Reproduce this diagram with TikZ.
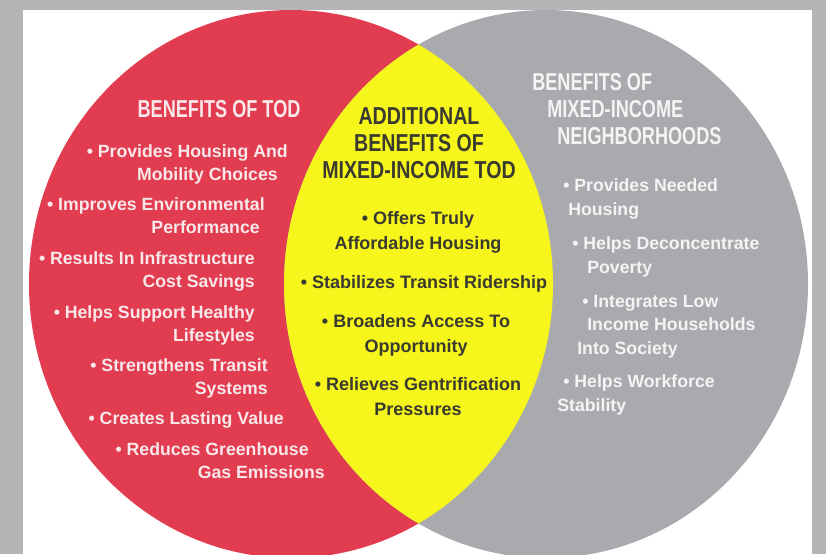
\documentclass[tikz,border=0pt]{standalone}
\usepackage{fontspec}
\setmainfont{Liberation Sans}
\newfontfamily\headfont[FakeStretch=0.74]{Liberation Sans}
\newfontfamily\headboldfont[FakeStretch=0.8]{Liberation Sans}
\usetikzlibrary{positioning}
\definecolor{todRed}{HTML}{E23C50}
\definecolor{mixGray}{HTML}{A9AAAE}
\definecolor{lensYellow}{HTML}{F6F61C}
\definecolor{frameGray}{HTML}{B5B5B7}
\definecolor{darkText}{HTML}{3A3A30}
\definecolor{pinkWhite}{HTML}{F8E8EA}
\definecolor{grayWhite}{HTML}{F4F4F4}
\tikzset{every picture/.style={semithick}}
\tikzset{
  head/.style={font=\headfont\fontsize{24.5}{27}\selectfont\bfseries, inner sep=0pt},
  redtxt/.style={font=\fontsize{17.7}{23}\selectfont\bfseries, inner sep=0pt, text=pinkWhite, align=right, anchor=base east},
  yeltxt/.style={font=\fontsize{18}{25}\selectfont\bfseries, inner sep=0pt, text=darkText, align=center, anchor=base},
  grytxt/.style={font=\fontsize{17.7}{23.5}\selectfont\bfseries, inner sep=0pt, text=grayWhite, align=left, anchor=base west},
}

\begin{document}
\begin{tikzpicture}[x=1pt, y=-1pt]
    \useasboundingbox (0,0) rectangle (826,554);
    \fill[frameGray] (0,0) rectangle (826,554);
    \fill[white] (23,10) rectangle (812,554);
    % the two circles and the lens
    \begin{scope}
        \clip (23,10) rectangle (812,554);
        \fill[todRed] (291,284) ellipse [x radius=262pt, y radius=274pt];
        \fill[mixGray] (546,284) ellipse [x radius=262pt, y radius=274pt];
        \clip (291,284) ellipse [x radius=262pt, y radius=274pt];
        \fill[lensYellow] (546,284) ellipse [x radius=262pt, y radius=274pt];
    \end{scope}

    % left: TOD (base anchor = last line)
    \node[head, text=pinkWhite, anchor=base] (todHead) at (219,117) {BENEFITS OF TOD};
    \node[redtxt] (tod1) at (288,180) {• Provides Housing And\\Mobility Choices\kern10pt};
    \node[redtxt] (tod2) at (265,233) {• Improves Environmental\\Performance\kern5pt};
    \node[redtxt] (tod3) at (255,287) {• Results In Infrastructure\\Cost Savings};
    \node[redtxt] (tod4) at (255,341) {• Helps Support Healthy\\Lifestyles};
    \node[redtxt] (tod5) at (268,394) {• Strengthens Transit\\Systems};
    \node[redtxt] (tod6) at (284,424) {• Creates Lasting Value};
    \node[redtxt] (tod7) at (325,478) {• Reduces Greenhouse\kern16pt\\Gas Emissions};

    % middle: mixed-income TOD
    \node[font=\headboldfont\fontsize{24.5}{27}\selectfont\bfseries, inner sep=0pt, text=darkText, align=center, anchor=base] (mixHead) at (419,178) {ADDITIONAL\\BENEFITS OF\\MIXED-INCOME TOD};
    \node[yeltxt] (mix1) at (418,249) {• Offers Truly\\Affordable Housing};
    \node[yeltxt] (mix2) at (424,288) {• Stabilizes Transit Ridership};
    \node[yeltxt] (mix3) at (416,352) {• Broadens Access To\\Opportunity};
    \node[yeltxt] (mix4) at (418,415) {• Relieves Gentrification\\Pressures};

    % right: mixed-income neighborhoods
    \node[head, text=grayWhite, align=left, anchor=base west] (nbhHead) at (532,144) {BENEFITS OF\\\hspace*{15pt}MIXED-INCOME\\\hspace*{25pt}NEIGHBORHOODS};
    \node[grytxt] (nbh1) at (563,215) {• Provides Needed\\\hspace*{5pt}Housing};
    \node[grytxt] (nbh2) at (572,273) {• Helps Deconcentrate\\\hspace*{15pt}Poverty};
    \node[grytxt] (nbh3) at (577,354) {\hspace*{5pt}• Integrates Low\\\hspace*{10pt}Income Households\\Into Society};
    \node[grytxt] (nbh4) at (557,411) {\hspace*{6pt}• Helps Workforce\\Stability};
\end{tikzpicture}
\end{document}
